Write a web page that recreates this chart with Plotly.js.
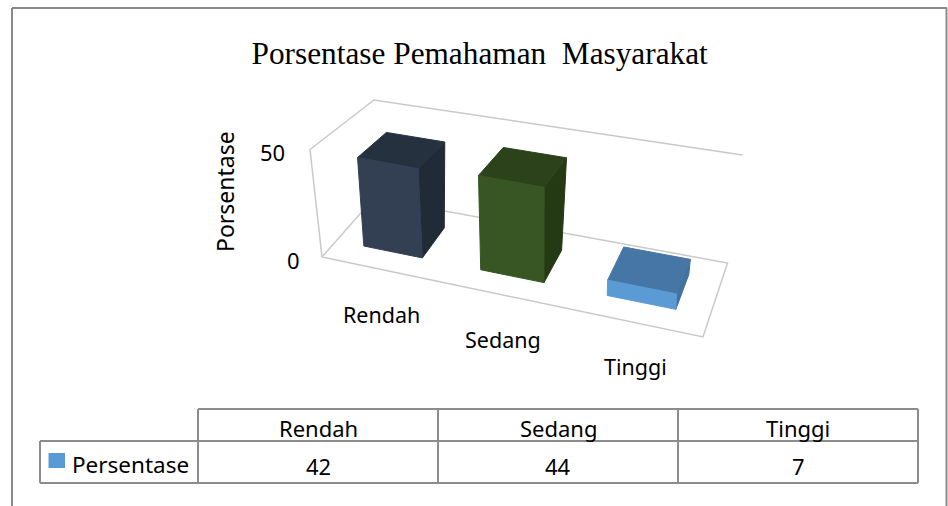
<!DOCTYPE html>
<html><head><meta charset="utf-8">
<script src="https://cdn.plot.ly/plotly-3.0.1.min.js"></script>
<style>html,body{margin:0;padding:0;background:#fff}</style></head>
<body><div id="chart" style="width:948px;height:506px"></div>
<script>
const categories = ["Rendah", "Sedang", "Tinggi"];
const seriesName = "Persentase";
const values = [42, 44, 7];
const axisTicks = [0, 50];
const titleText = "Porsentase Pemahaman  Masyarakat";
const yTitle = "Porsentase";
const frontColors = ["#333f52", "#375623", "#5b9bd5"];
const topColors = ["#26313f", "#2b421b", "#4676a5"];
const sideColors = ["#212b37", "#243a15", "#41719e"];

const axisMax = 50;
const FL = [322,257], FR = [703,337], BR = [727.5,263], BL = [374,198];
const upFL = [-12,-107.5], upFR = [4,-112], upBR = [15,-108], upBL = [0,-98];
function bil(a,b,c,d,u,v){ // a front-left, b front-right, c back-right, d back-left
  const f = i => (a[i]*(1-u)+b[i]*u)*(1-v) + (d[i]*(1-u)+c[i]*u)*v;
  return [f(0), f(1)];
}
function warp(u){ const k = 0.887; return k*u/(1+(k-1)*u); }
function project(u,v,val){
  const w = warp(u);
  const p = bil(FL,FR,BR,BL,w,v), up = bil(upFL,upFR,upBR,upBL,w,v);
  return [p[0]+up[0]*val/axisMax, p[1]+up[1]*val/axisMax];
}
function poly(pts,color){
  return {x:pts.map(p=>p[0]).concat(pts[0][0]), y:pts.map(p=>p[1]).concat(pts[0][1]),
    mode:"lines", fill:"toself", fillcolor:color, line:{color:color,width:1}, hoverinfo:"skip", showlegend:false, type:"scatter"};
}
function wire(pts){
  return {x:pts.map(p=>p[0]), y:pts.map(p=>p[1]), mode:"lines", line:{color:"#c9c9c9",width:1.5}, hoverinfo:"skip", showlegend:false, type:"scatter"};
}
const traces = [];
// walls and floor outline
traces.push(wire([project(0,0,0),project(0,0,axisMax),project(0,1,axisMax),project(1,1,axisMax)]));
traces.push(wire([project(0,0,0),project(0,1,0),project(1,1,0),project(1,0,0),project(0,0,0)]));
const n = categories.length, half = 0.085, v0 = 0.28, v1 = 0.76;
categories.forEach((c,i)=>{
  const u = (i+0.5)/n, a = u-half, b = u+half, h = values[i];
  traces.push(poly([project(b,v0,0),project(b,v1,0),project(b,v1,h),project(b,v0,h)], sideColors[i]));
  traces.push(poly([project(a,v0,h),project(b,v0,h),project(b,v1,h),project(a,v1,h)], topColors[i]));
  traces.push(poly([project(a,v0,0),project(b,v0,0),project(b,v0,h),project(a,v0,h)], frontColors[i]));
});
const sansFont = "Noto Sans, Open Sans, sans-serif";
const anns = [];
function txt(x,y,t,size,extra){ anns.push(Object.assign({x:x,y:y,xref:"x",yref:"y",text:t,showarrow:false,xanchor:"center",yanchor:"middle",font:{family:sansFont,size:size,color:"#000"}},extra||{})); }
const catLabelPos = [[381,314],[503,339],[635,366]];
categories.forEach((c,i)=>txt(catLabelPos[i][0],catLabelPos[i][1],c,21.5));
txt(272,152,String(axisTicks[1]),22); txt(293,260,String(axisTicks[0]),22);
txt(225,192,yTitle,23,{textangle:-90});
// data table
const colX = [198,438,678,918], rowY = [409,441,483], tabLeft = 40;
const shapes = [];
function seg(x0,y0,x1,y1,col,w){ shapes.push({type:"line",xref:"x",yref:"y",x0,y0,x1,y1,line:{color:col||"#8c8c8c",width:w||2}}); }
seg(12,8,947,8,"#8a8a8a",2); seg(12,8,12,506,"#8a8a8a",2); seg(946.5,8,946.5,506,"#8a8a8a",2);
seg(198,rowY[0],918,rowY[0]); seg(tabLeft,rowY[1],918,rowY[1]); seg(tabLeft,rowY[2],918,rowY[2]);
colX.forEach(x=>seg(x,rowY[0],x,rowY[2])); seg(tabLeft,rowY[1],tabLeft,rowY[2]);
shapes.push({type:"rect",xref:"x",yref:"y",x0:48.5,x1:65,y0:453,y1:468,fillcolor:"#5b9bd5",line:{width:0}});
categories.forEach((c,i)=>{
  txt((colX[i]+colX[i+1])/2,428,c,22);
  txt((colX[i]+colX[i+1])/2,465.5,String(values[i]),22);
});
txt(130.5,464,seriesName,22.5);
const layout = {
  width:948,height:506,margin:{l:0,r:0,t:0,b:0},paper_bgcolor:"#fff",plot_bgcolor:"#fff",showlegend:false,
  title:{text:titleText,x:0.506,xanchor:"center",y:0.895,yanchor:"middle",font:{family:"Liberation Serif, serif",size:31.3,color:"#000"}},
  xaxis:{range:[0,948],visible:false,fixedrange:true},
  yaxis:{range:[506,0],visible:false,fixedrange:true},
  annotations:anns,shapes:shapes
};
Plotly.newPlot("chart",traces,layout,{displayModeBar:false,staticPlot:true});
</script></body></html>
